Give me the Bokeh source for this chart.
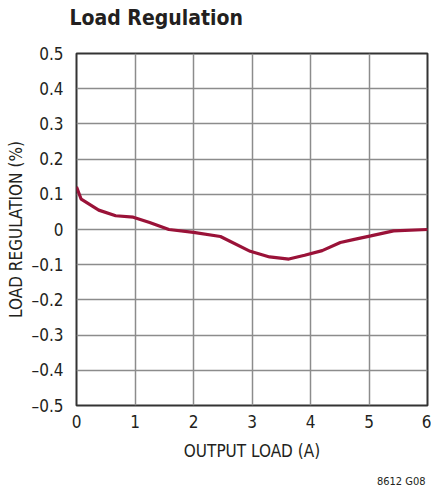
from bokeh.plotting import figure
from bokeh.models import Range1d, FixedTicker, Title
from bokeh.embed import file_html
from bokeh.resources import INLINE

load_a = [0.0, 0.08, 0.38, 0.67, 0.97, 1.25, 1.58, 2.0, 2.46, 2.97, 3.3, 3.63, 3.9, 4.2, 4.51, 4.75, 5.03, 5.42, 6.0]
regulation_pct = [0.121, 0.086, 0.055, 0.039, 0.035, 0.02, 0.0, -0.008, -0.02, -0.062, -0.078, -0.084, -0.073, -0.06, -0.037, -0.028, -0.018, -0.004, 0.0]

x_ticks = [0, 1, 2, 3, 4, 5, 6]
y_ticks = [0.5, 0.4, 0.3, 0.2, 0.1, 0.0, -0.1, -0.2, -0.3, -0.4, -0.5]
y_tick_labels = ["0.5", "0.4", "0.3", "0.2", "0.1", "0", "\u20130.1", "\u20130.2", "\u20130.3", "\u20130.4", "\u20130.5"]

FONT = "'DejaVu Sans Condensed', sans-serif"

p = figure(width=431, height=489, output_backend="svg", toolbar_location=None,
           x_range=Range1d(0, 6), y_range=Range1d(-0.5, 0.5),
           min_border_left=76, min_border_right=4, min_border_top=53, min_border_bottom=83)

p.title.text = "Load Regulation\n\u00a0"
p.title.text_font = FONT
p.title.text_font_size = "21px"
p.title.text_font_style = "bold"
p.title.text_color = "#231f20"
p.title.align = "left"
p.title.vertical_align = "top"
p.title.text_line_height = 0.72
p.title.offset = -7
p.title.standoff = 10

p.line(load_a, regulation_pct, line_color="#9a1238", line_width=3.2)

p.xaxis.ticker = FixedTicker(ticks=x_ticks)
p.yaxis.ticker = FixedTicker(ticks=y_ticks)
p.yaxis.major_label_overrides = {t: l for t, l in zip(y_ticks, y_tick_labels)}

for ax in (p.xaxis, p.yaxis):
    ax.major_tick_line_color = None
    ax.minor_tick_line_color = None
    ax.axis_line_color = None
    ax.major_label_text_font = FONT
    ax.major_label_text_font_size = "17px"
    ax.major_label_text_color = "#231f20"
    ax.axis_label_text_font = FONT
    ax.axis_label_text_font_size = "17px"
    ax.axis_label_text_font_style = "normal"
    ax.axis_label_text_color = "#231f20"

p.xaxis.axis_label = "OUTPUT LOAD (A)"
p.yaxis.axis_label = "LOAD REGULATION (%)"
p.xaxis.major_label_standoff = 3
p.yaxis.major_label_standoff = 7
p.xaxis.axis_label_standoff = 10
p.yaxis.axis_label_standoff = 3

p.grid.grid_line_color = "#8c8c8c"
p.grid.grid_line_width = 1.5
p.outline_line_color = "#333333"
p.outline_line_width = 2
p.background_fill_color = "white"

note = Title(text="\u00a0\n8612 G08", align="right", offset=2, standoff=2, text_font=FONT,
             text_font_size="11px", text_font_style="normal", text_color="#231f20",
             text_line_height=0.7)
p.add_layout(note, "below")

open("out.html", "w").write(file_html(p, INLINE))
